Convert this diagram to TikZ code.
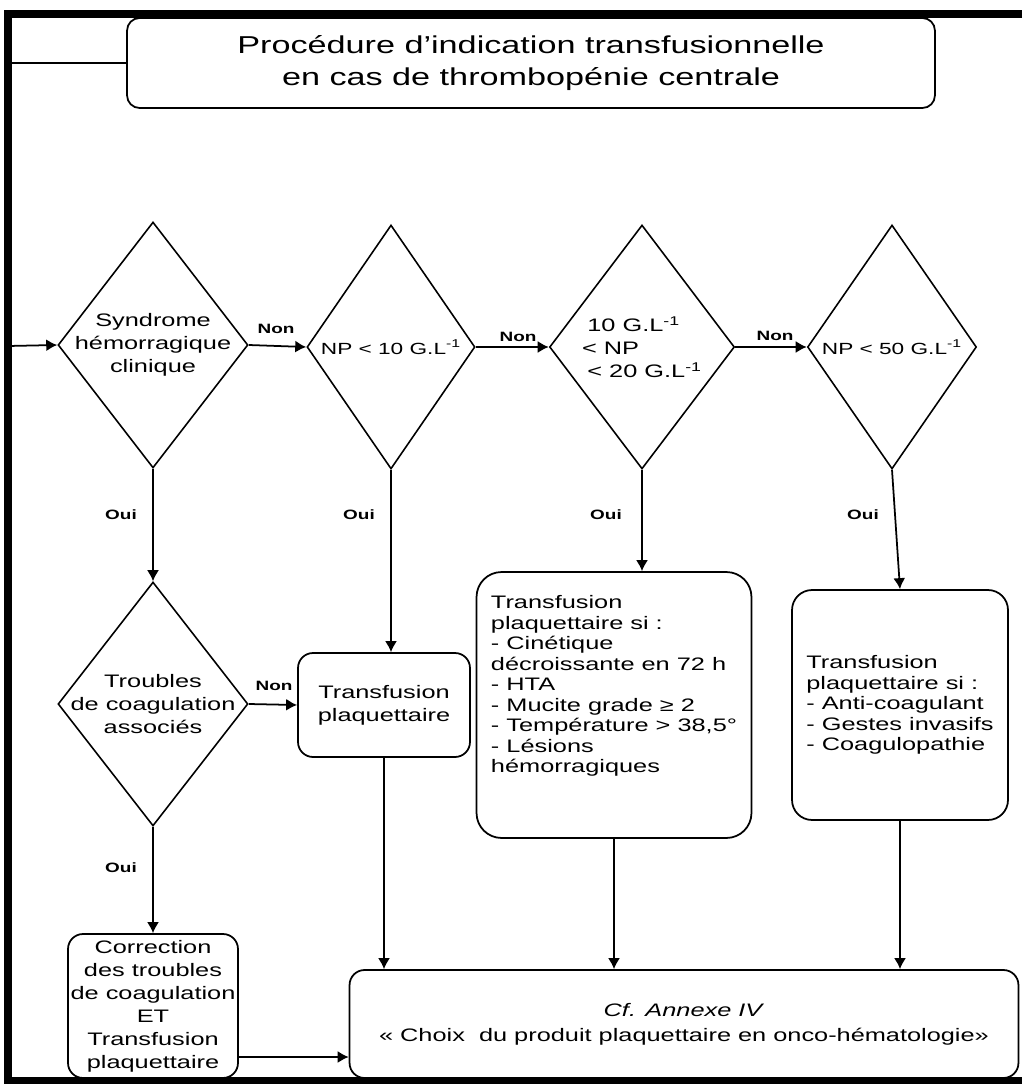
\documentclass[tikz,border=0pt]{standalone}
\usepackage{fontspec}
\setmainfont{Liberation Sans}[FakeStretch=1.4]
\usepackage{tikz}
\usetikzlibrary{arrows.meta}
\usetikzlibrary{shapes.geometric}
\tikzstyle{decision} = [diamond, draw, line width=0.9pt,
    inner xsep=-2cm, inner ysep=-2cm, align=center,
    font=\fontsize{10.3}{13.1}\selectfont]
\tikzstyle{process} = [rectangle, draw, line width=1pt,
    rounded corners=0.3cm, align=center, inner sep=2pt,
    font=\fontsize{10.3}{13.1}\selectfont]
\tikzstyle{answer} = [inner sep=0pt, font=\fontsize{7.7}{9}\selectfont\bfseries]
\tikzstyle{flow} = [->, line width=1pt]
\tikzset{>={Latex[length=2.2mm,width=2.4mm]}}

\begin{document}
\begin{tikzpicture}
\begin{scope}[x=0.02cm, y=-0.02cm]
    \useasboundingbox (0,0) rectangle (1022,1084);
    %frame
    \draw[line width=4pt] (1022,14) -- (8,14) -- (8,1080) -- (1022,1080);
    \coordinate (topin) at (8,63);
    \coordinate (entry) at (8,346);
    %title
    \node[process, rounded corners=0.25cm, minimum width=16.16cm, minimum height=1.8cm,
        font=\fontsize{13.9}{18.2}\selectfont] (title) at (531,63)
        {Procédure d’indication transfusionnelle\\en cas de thrombopénie centrale};
    %decisions
    \node[decision, minimum width=3.8cm, minimum height=4.92cm] (d1) at (153,345)
        {Syndrome\\hémorragique\\clinique};
    \node[decision, minimum width=3.36cm, minimum height=4.88cm,
        font=\fontsize{9.2}{13.1}\selectfont] (d2) at (391,347)
        {NP < 10 G.L\textsuperscript{-1}};
    \node[decision, minimum width=3.7cm, minimum height=4.88cm, align=left] (d3) at (642,347)
        {\hspace*{3pt}10 G.L\textsuperscript{-1}\\< NP\\\hspace*{3pt}< 20 G.L\textsuperscript{-1}};
    \node[decision, minimum width=3.38cm, minimum height=4.88cm,
        font=\fontsize{9.2}{13.1}\selectfont] (d4) at (892,347)
        {NP < 50 G.L\textsuperscript{-1}};
    \node[decision, minimum width=3.8cm, minimum height=4.88cm] (d5) at (153,704)
        {Troubles\\de coagulation\\associés};
    %boxes
    \node[process, minimum width=3.44cm, minimum height=2.08cm] (b2) at (384,705)
        {Transfusion\\plaquettaire};
    \node[process, rounded corners=0.5cm, minimum width=5.5cm, minimum height=5.32cm,
        align=left, font=\fontsize{10.3}{11.7}\selectfont] (b3) at (614,705)
        {Transfusion\\plaquettaire si :\\- Cinétique\\décroissante en 72 h\\- HTA\\
        - Mucite grade ≥ 2\\- Température > 38,5°\\- Lésions\\hémorragiques\\[12pt]\mbox{}};
    \node[process, rounded corners=0.4cm, minimum width=4.32cm, minimum height=4.6cm,
        align=left, font=\fontsize{10.3}{11.7}\selectfont] (b4) at (900,705)
        {Transfusion\\plaquettaire si :\\- Anti-coagulant\\- Gestes invasifs\\- Coagulopathie};
    \node[process, minimum width=3.4cm, minimum height=2.88cm, inner sep=0pt] (b5) at (153,1006)
        {Correction\\des troubles\\de coagulation\\ET\\Transfusion\\plaquettaire};
    \node[process, minimum width=13.38cm, minimum height=2.16cm,
        font=\fontsize{10.3}{14.2}\selectfont] (b6) at (684,1024)
        {\textit{Cf. Annexe IV}\\« Choix\ \ du produit plaquettaire en onco-hématologie»};
    %edges
    \draw[line width=1pt] (topin) to (title.west);
    \draw[flow] (entry) to (d1.west);
    \draw[flow] (d1.east) to (d2.west);
    \draw[flow] (d2.east) to (d3.west);
    \draw[flow] (d3.east) to (d4.west);
    \draw[flow] (d1.south) to (d5.north);
    \draw[flow] (d2.south) to (d2.south |- b2.north);
    \draw[flow] (d3.south) to (d3.south |- b3.north);
    \draw[flow] (d4.south) to (b4.north);
    \draw[flow] (d5.east) to (b2.west);
    \draw[flow] (d5.south) to (b5.north);
    \draw[flow] (b2.south) to (b2.south |- b6.north);
    \draw[flow] (b3.south) to (b3.south |- b6.north);
    \draw[flow] (b4.south) to (b4.south |- b6.north);
    \draw[flow] (b5.east |- 0,1057) to (b6.west |- 0,1057);
    %labels
    \node[answer] (non1) at (276,329) {Non};
    \node[answer] (non2) at (518,337) {Non};
    \node[answer] (non3) at (775,336) {Non};
    \node[answer] (non4) at (274,686) {Non};
    \node[answer] (oui1) at (121,515) {Oui};
    \node[answer] (oui2) at (359,515) {Oui};
    \node[answer] (oui3) at (606,515) {Oui};
    \node[answer] (oui4) at (863,515) {Oui};
    \node[answer] (oui5) at (121,868) {Oui};
\end{scope}
\end{tikzpicture}
\end{document}
